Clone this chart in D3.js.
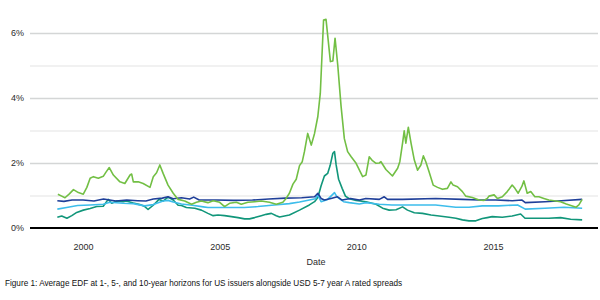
<!DOCTYPE html>
<html>
<head>
<meta charset="utf-8">
<script src="https://cdn.jsdelivr.net/npm/d3@7"></script>
<style>
  html, body { margin: 0; padding: 0; background: #fff; }
  svg { display: block; font-family: "Liberation Sans", Arial, sans-serif; }
</style>
</head>
<body>
<svg id="chart" width="600" height="300"></svg>
<script>
// values: [decimal year, percent]
let spreadA = [
  [1999.08,1.04],[1999.22,0.98],[1999.34,0.93],[1999.50,1.05],[1999.65,1.18],[1999.83,1.09],
  [2000.01,1.04],[2000.14,1.25],[2000.26,1.53],[2000.38,1.58],[2000.56,1.53],[2000.74,1.59],
  [2000.84,1.72],[2000.96,1.86],[2001.11,1.63],[2001.35,1.42],[2001.53,1.37],[2001.72,1.63],
  [2001.78,1.66],[2001.84,1.42],[2002.02,1.42],[2002.20,1.37],[2002.45,1.25],[2002.57,1.58],
  [2002.69,1.70],[2002.81,1.94],[2002.93,1.68],[2003.11,1.32],[2003.30,1.07],[2003.48,0.88],
  [2003.72,0.83],[2003.97,0.73],[2004.15,0.79],[2004.33,0.83],[2004.57,0.78],[2004.76,0.84],
  [2005.00,0.79],[2005.18,0.66],[2005.36,0.76],[2005.61,0.79],[2005.79,0.73],[2006.03,0.79],
  [2006.28,0.81],[2006.52,0.83],[2006.82,0.79],[2007.07,0.73],[2007.31,0.79],[2007.43,0.91],
  [2007.55,1.07],[2007.68,1.35],[2007.80,1.50],[2007.92,1.92],[2008.02,2.04],[2008.10,2.35],
  [2008.22,2.91],[2008.35,2.55],[2008.47,2.91],[2008.59,3.43],[2008.68,4.14],[2008.80,6.40],
  [2008.89,6.42],[2009.05,5.12],[2009.14,5.14],[2009.22,5.84],[2009.32,5.00],[2009.44,3.75],
  [2009.56,2.75],[2009.68,2.35],[2009.81,2.19],[2009.99,1.99],[2010.23,1.58],[2010.35,1.63],
  [2010.47,2.19],[2010.59,2.07],[2010.72,1.99],[2010.84,2.00],[2010.90,2.04],[2011.08,1.80],
  [2011.32,1.60],[2011.51,1.84],[2011.59,2.04],[2011.69,2.61],[2011.75,2.99],[2011.81,2.61],
  [2011.90,3.10],[2012.00,2.61],[2012.12,2.09],[2012.24,1.78],[2012.36,1.94],[2012.45,2.22],
  [2012.54,2.04],[2012.66,1.73],[2012.81,1.32],[2012.97,1.25],[2013.15,1.19],[2013.33,1.22],
  [2013.46,1.42],[2013.54,1.32],[2013.70,1.27],[2013.88,1.12],[2014.00,0.98],[2014.24,0.94],
  [2014.49,0.86],[2014.67,0.85],[2014.79,0.91],[2014.85,0.98],[2015.04,1.02],[2015.16,0.91],
  [2015.34,0.96],[2015.52,1.12],[2015.70,1.32],[2015.80,1.22],[2015.92,1.07],[2016.05,1.27],
  [2016.13,1.45],[2016.25,1.07],[2016.38,1.12],[2016.53,0.96],[2016.68,0.96],[2016.86,0.91],
  [2017.04,0.86],[2017.23,0.84],[2017.47,0.81],[2017.68,0.74],[2017.90,0.68],[2018.04,0.64],
  [2018.14,0.71],[2018.26,0.88]
];

let edf1 = [
  [1999.06,0.33],[1999.22,0.37],[1999.41,0.30],[1999.59,0.38],[1999.77,0.48],[2000.01,0.55],
  [2000.26,0.60],[2000.50,0.66],[2000.74,0.67],[2000.92,0.88],[2001.05,0.76],[2001.23,0.83],
  [2001.47,0.81],[2001.59,0.83],[2001.84,0.77],[2002.08,0.72],[2002.26,0.66],[2002.38,0.57],
  [2002.57,0.70],[2002.78,0.88],[2002.93,0.83],[2003.11,0.95],[2003.30,0.86],[2003.48,0.70],
  [2003.60,0.69],[2003.78,0.63],[2004.09,0.61],[2004.33,0.55],[2004.57,0.45],[2004.76,0.38],
  [2004.94,0.40],[2005.18,0.38],[2005.43,0.35],[2005.67,0.32],[2005.91,0.28],[2006.09,0.28],
  [2006.28,0.32],[2006.52,0.38],[2006.70,0.42],[2006.89,0.45],[2007.07,0.38],[2007.19,0.34],
  [2007.55,0.40],[2007.92,0.55],[2008.28,0.71],[2008.47,0.81],[2008.59,0.94],[2008.71,1.30],
  [2008.83,1.60],[2008.95,1.68],[2009.04,1.92],[2009.14,2.30],[2009.20,2.35],[2009.26,1.94],
  [2009.35,1.50],[2009.48,1.22],[2009.60,0.98],[2009.74,0.90],[2009.99,0.85],[2010.35,0.81],
  [2010.72,0.73],[2010.96,0.61],[2011.20,0.55],[2011.45,0.56],[2011.69,0.65],[2011.87,0.55],
  [2012.12,0.47],[2012.42,0.45],[2012.73,0.40],[2013.03,0.37],[2013.39,0.33],[2013.64,0.30],
  [2013.88,0.25],[2014.12,0.22],[2014.37,0.22],[2014.61,0.29],[2014.79,0.32],[2014.97,0.35],
  [2015.34,0.33],[2015.70,0.37],[2016.01,0.43],[2016.17,0.30],[2016.56,0.30],[2017.04,0.30],
  [2017.47,0.32],[2017.84,0.27],[2018.26,0.25]
];

let edf10 = [
  [1999.06,0.84],[1999.30,0.82],[1999.60,0.86],[2000.00,0.86],[2000.40,0.83],[2000.75,0.89],
  [2001.20,0.83],[2001.60,0.86],[2002.00,0.84],[2002.30,0.83],[2002.57,0.89],[2002.90,0.92],
  [2003.11,0.96],[2003.30,0.90],[2003.60,0.93],[2003.90,0.89],[2004.05,0.95],[2004.25,0.86],
  [2004.90,0.86],[2005.50,0.85],[2006.20,0.86],[2006.80,0.89],[2007.40,0.92],[2008.00,0.93],
  [2008.47,0.96],[2008.59,1.07],[2008.71,0.91],[2008.83,0.86],[2009.07,0.91],[2009.31,0.96],
  [2009.48,0.86],[2009.79,0.91],[2010.11,0.86],[2010.35,0.91],[2010.84,0.88],[2011.02,0.96],
  [2011.14,0.88],[2011.69,0.88],[2012.90,0.91],[2013.88,0.88],[2014.49,0.86],[2015.10,0.86],
  [2015.70,0.84],[2016.06,0.86],[2016.18,0.78],[2016.90,0.81],[2017.50,0.84],[2018.26,0.88]
];

let edf5 = [
  [1999.06,0.58],[1999.40,0.63],[1999.80,0.69],[2000.26,0.71],[2000.74,0.73],[2000.98,0.79],
  [2001.47,0.76],[2001.84,0.75],[2002.26,0.68],[2002.57,0.72],[2002.93,0.83],[2003.11,0.85],
  [2003.30,0.80],[2003.60,0.74],[2004.00,0.70],[2004.40,0.65],[2004.57,0.63],[2005.20,0.63],
  [2005.90,0.63],[2006.40,0.66],[2007.00,0.71],[2007.55,0.75],[2007.92,0.80],[2008.28,0.86],
  [2008.50,0.90],[2008.59,1.02],[2008.71,0.81],[2008.95,0.88],[2009.20,1.09],[2009.29,0.96],
  [2009.53,0.81],[2009.74,0.78],[2010.11,0.74],[2010.35,0.78],[2010.84,0.73],[2011.30,0.71],
  [2011.90,0.71],[2012.90,0.71],[2013.64,0.64],[2014.12,0.64],[2014.61,0.68],[2015.20,0.68],
  [2015.90,0.71],[2016.18,0.58],[2016.90,0.61],[2017.60,0.64],[2018.26,0.61]
];

let yearTicks = [2000, 2005, 2010, 2015];
let majorTicks = [2, 4, 6];
let minorTicks = [1, 3, 5];

let kColors = {
  "spread": "#72bf44",
  "edf1": "#11967a",
  "edf5": "#3dbdeb",
  "edf10": "#1f3f99",
  "gridMajor": "#d4d6d6",
  "gridMinor": "#e3e4e4",
  "text": "#2b2b2b"
};

let kChart = { "left": 30, "right": 598, "top": 33, "bottom": 228 };

let svg = d3.select("#chart");

let x = d3.scaleLinear()
  .domain([1998.06, 2018.84])
  .range([kChart.left, kChart.right]);

let y = d3.scaleLinear()
  .domain([0, 6])
  .range([kChart.bottom, kChart.top]);

// minor grid
svg.append("g")
  .attr("transform", "translate(" + kChart.left + ",0)")
  .call(d3.axisLeft(y).tickValues(minorTicks).tickSize(-(kChart.right - kChart.left)).tickFormat(""))
  .call(g => g.select(".domain").remove())
  .call(g => g.selectAll("line").attr("stroke", kColors.gridMinor).attr("stroke-width", 1.2));

// major grid + labels
svg.append("g")
  .attr("transform", "translate(" + kChart.left + ",0)")
  .call(d3.axisLeft(y).tickValues(majorTicks).tickSize(-(kChart.right - kChart.left)).tickPadding(6).tickFormat(d => d + "%"))
  .call(g => g.select(".domain").remove())
  .call(g => g.selectAll("line").attr("stroke", kColors.gridMajor).attr("stroke-width", 1.6))
  .call(g => g.selectAll("text").attr("fill", kColors.text).attr("font-size", 9).attr("font-family", null));

// 0% label
svg.append("text")
  .attr("x", kChart.left - 6)
  .attr("y", y(0))
  .attr("dy", "0.32em")
  .attr("text-anchor", "end")
  .attr("fill", kColors.text)
  .attr("font-size", 9)
  .text("0%");

// lines
let line = d3.line()
  .x(d => x(d[0]))
  .y(d => y(d[1]));

let series = [
  { data: edf1, color: kColors.edf1 },
  { data: edf5, color: kColors.edf5 },
  { data: edf10, color: kColors.edf10 },
  { data: spreadA, color: kColors.spread }
];

series.forEach(function(s) {
  svg.append("path")
    .datum(s.data)
    .attr("fill", "none")
    .attr("stroke", s.color)
    .attr("stroke-width", 1.6)
    .attr("stroke-linejoin", "round")
    .attr("d", line);
});

// baseline
svg.append("line")
  .attr("x1", kChart.left).attr("x2", kChart.right)
  .attr("y1", y(0)).attr("y2", y(0))
  .attr("stroke", "#000")
  .attr("stroke-width", 2);

// x axis
svg.append("g")
  .attr("transform", "translate(0," + (kChart.bottom + 13) + ")")
  .call(d3.axisBottom(x).tickValues(yearTicks).tickSize(0).tickFormat(d3.format("d")))
  .call(g => g.select(".domain").remove())
  .call(g => g.selectAll("text").attr("fill", kColors.text).attr("font-size", 9).attr("font-family", null));

svg.append("text")
  .attr("x", 316)
  .attr("y", 265)
  .attr("text-anchor", "middle")
  .attr("fill", kColors.text)
  .attr("font-size", 9)
  .text("Date");

svg.append("text")
  .attr("x", 5)
  .attr("y", 286)
  .attr("fill", "#111")
  .attr("font-size", 8.2)
  .text("Figure 1: Average EDF at 1-, 5-, and 10-year horizons for US issuers alongside USD 5-7 year A rated spreads");
</script>
</body>
</html>
